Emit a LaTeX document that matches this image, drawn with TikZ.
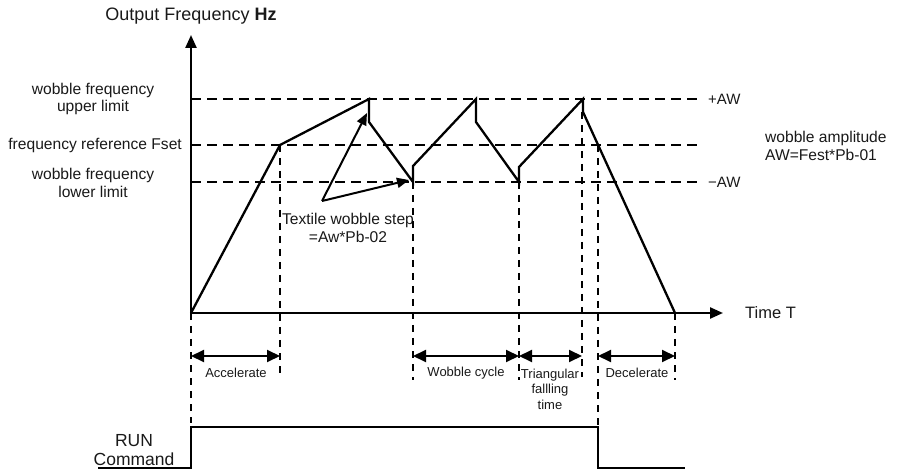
\documentclass[tikz,border=0pt]{standalone}
\usepackage{fontspec}
\setmainfont{Liberation Sans}
\usetikzlibrary{arrows.meta, positioning}
\tikzset{
  axis/.style={line width=2.4pt, -{Triangle[length=13pt,width=11pt]}},
  curve/.style={line width=2.3pt, line join=miter},
  guide/.style={line width=2pt, dash pattern=on 10pt off 6pt},
  span/.style={line width=2pt, {Triangle[length=13pt,width=12pt]}-{Triangle[length=13pt,width=12pt]}},
  steparrow/.style={line width=2pt, -{Triangle[length=12pt,width=10pt]}},
  lbl/.style={inner sep=0pt, text=black!90, font=\fontsize{15.6}{17.5}\selectfont, align=center},
  small/.style={inner sep=0pt, text=black!90, font=\fontsize{13}{15.5}\selectfont, align=center}
}
\begin{document}
\begin{tikzpicture}[x=1pt, y=-1pt]
  \useasboundingbox (0,0) rectangle (897,470);

  % axes
  \coordinate (O) at (191,313);
  \coordinate (ytop) at (191,35);
  \coordinate (xend) at (723,313);
  \draw[axis] (O) -- (ytop);
  \draw[axis] (O) -- (xend);
  \node[lbl, font=\fontsize{18}{20}\selectfont] (ylabel) at (191,16) {Output Frequency \textbf{Hz}};
  \node[lbl, font=\fontsize{16.5}{19}\selectfont, anchor=west] (xlabel) at (745,313) {Time T};

  % frequency levels
  \coordinate (upper) at (191,99);
  \coordinate (fset) at (191,145);
  \coordinate (lower) at (191,182);
  \draw[guide] (upper) -- (700,99);
  \draw[guide] (fset) -- (700,145);
  \draw[guide] (lower) -- (700,182);
  \node[lbl] (upperlbl) at (93,99) {wobble frequency\\upper limit};
  \node[lbl, anchor=east] (fsetlbl) at (182,145) {frequency reference Fset};
  \node[lbl] (lowerlbl) at (93,183) {wobble frequency\\lower limit};
  \node[lbl, font=\fontsize{15}{17}\selectfont, anchor=west] (plusaw) at (708,99) {+AW};
  \node[lbl, font=\fontsize{15}{17}\selectfont, anchor=west] (minusaw) at (708,182) {−AW};
  \node[lbl, align=left, anchor=west] (amp) at (765,146) {wobble amplitude\\AW=Fest*Pb-01};

  % output frequency
  \draw[curve] (O) -- (280,145) -- (369,99) -- (369,122) -- (413,182) -- (413,166)
    -- (476,99) -- (476,122) -- (519,182) -- (519,167) -- (583,99) -- (583,112) -- (675,313);

  % wobble step
  \coordinate (stepbase) at (322,201);
  \draw[steparrow] (stepbase) -- (367,113);
  \draw[steparrow] (stepbase) -- (409,180);
  \node[lbl] (steplbl) at (348,228) {Textile wobble step\\=Aw*Pb-02};

  % time marks
  \foreach \x/\ya/\yb in {191/313/423, 280/145/377, 413/182/380, 519/182/380,
                          582/112/377, 598/145/427, 675/313/380}
    \draw[guide, dash pattern=on 7pt off 6pt] (\x,\ya) -- (\x,\yb);
  \foreach \xa/\xb in {191/280, 413/519, 519/582, 598/675}
    \draw[span] (\xa,356) -- (\xb,356);
  \node[small] (accel) at (236,373) {Accelerate};
  \node[small] (cycle) at (466,373) {Wobble cycle};
  \node[small] (fall) at (550,389) {Triangular\\fallling\\time};
  \node[small] (decel) at (637,373) {Decelerate};

  % run command
  \draw[curve] (98,468) -- (191,468) -- (191,427) -- (598,427) -- (598,468) -- (685,468);
  \node[lbl, font=\fontsize{17.5}{19}\selectfont] (run) at (134,450) {RUN\\Command};
\end{tikzpicture}
\end{document}
